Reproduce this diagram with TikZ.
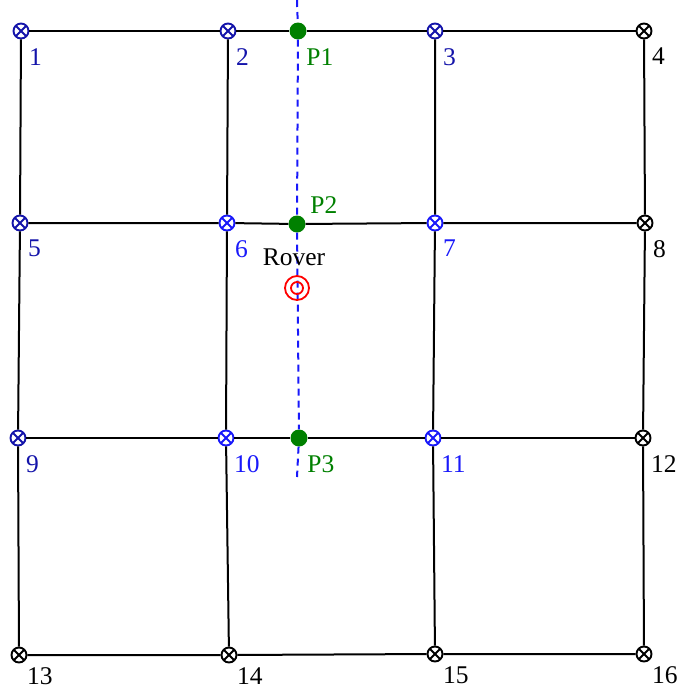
\documentclass[tikz,border=0pt]{standalone}
\usepackage{fontspec}
\setmainfont{Liberation Serif}
\usetikzlibrary{calc}

\definecolor{navy}{RGB}{20,20,170}
\definecolor{brblue}{RGB}{25,25,250}
\definecolor{dkgreen}{RGB}{0,128,0}

\tikzset{
  tag/.style={anchor=north west, inner sep=0pt, xshift=2pt, yshift=-11pt},
  sensor/.style 2 args={circle, draw=#1, line width=1.9pt, minimum size=15pt, inner sep=0pt,
    path picture={\draw[#1, line width=1.9pt]
      (path picture bounding box.north west) -- (path picture bounding box.south east)
      (path picture bounding box.north east) -- (path picture bounding box.south west);},
    label={[tag, text=#1]south east:#2}},
  waypt/.style={circle, fill=dkgreen, minimum size=17pt, inner sep=0pt},
  grid line/.style={line width=2pt},
}

\begin{document}
\begin{tikzpicture}[x=1pt, y=-1pt, font=\fontsize{25.5}{30}\selectfont]
\useasboundingbox (0,0) rectangle (678,689);
% anchor nodes
\node[sensor={navy}{1}] (n1) at (21,31) {};
\node[sensor={navy}{2}] (n2) at (228,31) {};
\node[sensor={navy}{3}] (n3) at (435,31) {};
\node[sensor={black}{4}] (n4) at (644,31) {};
\node[sensor={navy}{5}] (n5) at (20,223) {};
\node[sensor={brblue}{6}] (n6) at (227,223) {};
\node[sensor={brblue}{7}] (n7) at (435,223) {};
\node[sensor={black}{8}] (n8) at (645,223) {};
\node[sensor={navy}{9}] (n9) at (18,438) {};
\node[sensor={brblue}{10}] (n10) at (226,438) {};
\node[sensor={brblue}{11}] (n11) at (433,438) {};
\node[sensor={black}{12}] (n12) at (643,438) {};
\begin{scope}[tag/.append style={yshift=5pt}]
\node[sensor={black}{13}] (n13) at (19,655) {};
\node[sensor={black}{14}] (n14) at (229,655) {};
\node[sensor={black}{15}] (n15) at (435,654) {};
\node[sensor={black}{16}] (n16) at (644,654) {};
\end{scope}
% crossing points on the path
\node[waypt, label={[tag, text=dkgreen]south east:P1}] (p1) at (298,31) {};
\node[waypt, label={[anchor=south west, inner sep=0pt, xshift=7pt, yshift=4pt, text=dkgreen]north east:P2}] (p2) at (297,224) {};
\node[waypt, label={[tag, text=dkgreen]south east:P3}] (p3) at (299,438) {};
\coordinate (top) at (297,0);
\coordinate (bot) at (297,477);
% grid
\draw[grid line] (n1) -- (n2) -- (p1) -- (n3) -- (n4);
\draw[grid line] (n5) -- (n6) -- (p2) -- (n7) -- (n8);
\draw[grid line] (n9) -- (n10) -- (p3) -- (n11) -- (n12);
\draw[grid line] (n13) -- (n14) -- (n15) -- (n16);
\draw[grid line] (n1) -- (n5) -- (n9) -- (n13);
\draw[grid line] (n2) -- (n6) -- (n10) -- (n14);
\draw[grid line] (n3) -- (n7) -- (n11) -- (n15);
\draw[grid line] (n4) -- (n8) -- (n12) -- (n16);
% rover heading
\draw[brblue, line width=2pt, dash pattern=on 7pt off 5pt] (top) -- (p1) -- (p2) -- (p3) -- (bot);
\node[circle, draw=red, line width=1.8pt, minimum size=24pt, inner sep=0pt,
  label={[inner sep=0pt, label distance=9pt, xshift=-3pt]above:Rover}] (rover) at (297,288) {};
\draw[red, line width=1.8pt] (rover) circle (6pt);
\end{tikzpicture}
\end{document}
